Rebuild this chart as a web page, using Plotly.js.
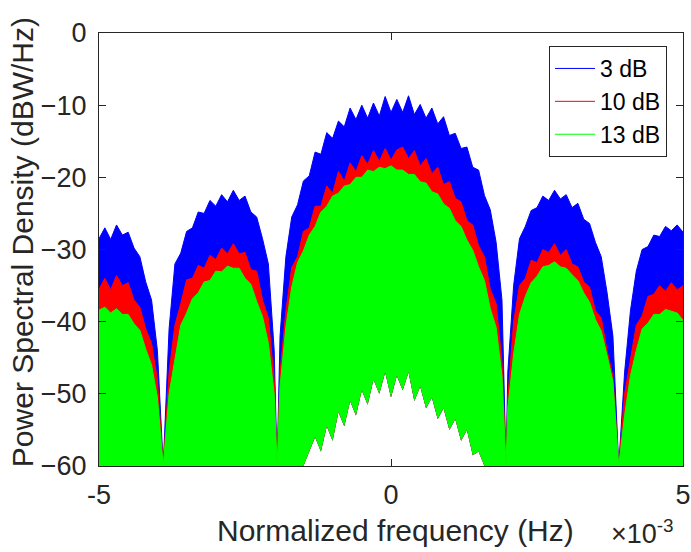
<!DOCTYPE html>
<html>
<head>
<meta charset="utf-8">
<script src="https://cdn.plot.ly/plotly-3.0.1.min.js"></script>
<style>html,body{margin:0;padding:0;background:#fff;}#chart{width:691px;height:552px;}</style>
</head>
<body>
<div id="chart"></div>
<script>
// Normalized frequency, in units of 1e-3 Hz
const freq = [-5.0,-4.9,-4.8,-4.7,-4.6,-4.5,-4.4,-4.3,-4.2,-4.1,-4.0,-3.9,-3.8,-3.7,-3.6,-3.5,-3.4,-3.3,-3.2,-3.1,-3.0,-2.9,-2.8,-2.7,-2.6,-2.5,-2.4,-2.3,-2.2,-2.1,-2.0,-1.95,-1.9,-1.8,-1.7,-1.6,-1.5,-1.4,-1.3,-1.2,-1.1,-1.0,-0.9,-0.8,-0.7,-0.6,-0.5,-0.4,-0.3,-0.2,-0.1,0.0,0.1,0.2,0.3,0.4,0.5,0.6,0.7,0.8,0.9,1.0,1.1,1.2,1.3,1.4,1.5,1.6,1.7,1.8,1.9,1.97,2.0,2.1,2.2,2.3,2.4,2.5,2.6,2.7,2.8,2.9,3.0,3.1,3.2,3.3,3.4,3.5,3.6,3.7,3.8,3.9,4.0,4.1,4.2,4.3,4.4,4.5,4.6,4.7,4.8,4.9,5.0];

// Upper (peak) envelope of each PSD, dBW/Hz
const psd3dB = [-28.5,-27.0,-28.6,-26.6,-28.0,-27.6,-29.8,-31.0,-34.5,-37.0,-44.0,-60,-41.0,-32.0,-30.5,-27.5,-27.0,-24.8,-25.0,-23.2,-24.0,-22.4,-23.4,-21.8,-23.2,-22.6,-24.8,-25.5,-28.5,-32.0,-44.0,-60,-42.0,-31.0,-25.5,-23.8,-20.5,-19.8,-16.5,-16.8,-13.8,-14.6,-12.2,-13.0,-10.4,-12.0,-10.0,-11.8,-9.7,-11.5,-8.8,-11.0,-9.2,-11.0,-8.7,-11.3,-9.9,-11.8,-10.4,-12.6,-11.6,-14.2,-13.9,-16.0,-15.8,-18.6,-19.0,-22.5,-24.5,-29.0,-37.0,-60,-47.0,-35.0,-28.5,-26.8,-24.6,-24.2,-22.6,-23.2,-21.8,-23.0,-22.4,-24.2,-23.6,-25.8,-26.4,-29.0,-31.0,-36.0,-42.0,-60,-47.0,-38.5,-33.0,-30.0,-29.6,-28.0,-28.2,-26.8,-27.4,-26.6,-27.6];

const psd10dB = [-35.5,-34.0,-35.6,-33.6,-35.0,-34.6,-37.0,-38.0,-41.0,-43.0,-48.0,-60,-47.0,-40.5,-37.5,-34.2,-34.0,-32.2,-32.6,-30.8,-31.4,-29.8,-30.6,-29.2,-30.6,-30.4,-32.8,-33.0,-37.0,-39.5,-48.0,-60,-47.0,-38.5,-32.5,-31.0,-27.5,-27.0,-24.0,-24.0,-21.2,-22.2,-19.2,-20.5,-18.0,-19.2,-17.0,-18.2,-16.3,-17.8,-16.0,-17.6,-16.2,-15.8,-17.4,-16.3,-18.4,-17.4,-19.5,-18.6,-21.0,-20.6,-22.9,-23.4,-26.0,-26.6,-29.5,-31.0,-35.5,-37.5,-45.5,-60,-50.5,-40.0,-35.0,-34.0,-31.5,-31.8,-30.0,-30.4,-29.2,-30.8,-30.0,-32.0,-32.4,-34.5,-35.2,-38.5,-39.5,-44.0,-47.5,-60,-50.0,-45.0,-40.5,-39.2,-36.5,-36.2,-35.0,-35.8,-34.6,-35.6,-35.0];

const psd13dB = [-38.4,-38.0,-38.8,-38.2,-39.0,-39.0,-40.3,-41.2,-43.8,-46.0,-50.5,-60,-50.0,-45.0,-40.5,-38.8,-36.8,-36.0,-34.5,-34.3,-33.0,-33.1,-32.3,-32.6,-32.6,-34.0,-34.8,-37.2,-39.3,-43.0,-50.0,-60,-49.0,-40.7,-35.2,-31.8,-30.2,-28.0,-26.8,-24.8,-24.0,-22.6,-22.2,-21.2,-21.0,-20.0,-20.0,-19.0,-19.2,-18.6,-18.8,-18.4,-19.0,-19.0,-19.6,-19.6,-20.6,-20.8,-22.0,-22.3,-23.7,-24.3,-26.0,-26.8,-28.7,-30.1,-32.4,-34.3,-38.2,-40.8,-47.5,-60,-52.0,-44.5,-39.0,-36.5,-34.6,-33.7,-32.4,-32.2,-31.7,-32.4,-32.6,-33.5,-34.3,-36.0,-37.3,-39.7,-41.3,-44.7,-48.3,-60,-53.0,-47.5,-44.0,-41.0,-40.2,-39.0,-39.0,-38.3,-38.6,-38.8,-39.8];

// Lower (trough) envelope shared by the three PSDs, dBW/Hz
const troughDb = [-60,-60,-60,-60,-60,-60,-60,-60,-60,-60,-60,-60,-60,-60,-60,-60,-60,-60,-60,-60,-60,-60,-60,-60,-60,-60,-60,-60,-60,-60,-60,-60,-60,-60,-60,-60,-60,-58.0,-56.0,-58.0,-54.5,-56.5,-52.5,-54.5,-51.0,-53.0,-49.5,-51.5,-48.0,-50.0,-47.0,-50.5,-47.5,-49.5,-47.0,-51.0,-49.0,-52.0,-50.5,-53.5,-52.0,-55.0,-53.5,-56.5,-55.0,-58.5,-58.0,-60,-60,-60,-60,-60,-60,-60,-60,-60,-60,-60,-60,-60,-60,-60,-60,-60,-60,-60,-60,-60,-60,-60,-60,-60,-60,-60,-60,-60,-60,-60,-60,-60,-60,-60,-60];

const seriesNames = ['3 dB', '10 dB', '13 dB'];
const seriesColors = ['#0000ff', '#ff0000', '#00ff00'];
const seriesValues = [psd3dB, psd10dB, psd13dB];

const txt = '#262626';
const traces = [];
seriesValues.forEach(function (vals, i) {
  traces.push({
    x: freq, y: troughDb, type: 'scatter', mode: 'lines',
    line: {width: 0, color: seriesColors[i]}, showlegend: false, hoverinfo: 'skip'
  });
  traces.push({
    x: freq, y: vals, type: 'scatter', mode: 'lines', fill: 'tonexty',
    fillcolor: seriesColors[i], line: {width: 1, color: seriesColors[i]},
    showlegend: false, name: seriesNames[i]
  });
});
seriesNames.forEach(function (n, i) {
  traces.push({
    x: [null], y: [null], type: 'scatter', mode: 'lines', name: n,
    line: {width: 1, color: seriesColors[i]}, showlegend: true
  });
});

const axisCommon = {
  showline: true, linecolor: txt, linewidth: 1, mirror: 'ticks',
  ticks: 'inside', ticklen: 7, tickcolor: txt, tickwidth: 1,
  showgrid: false, zeroline: false,
  tickfont: {family: 'Liberation Sans, Arial, sans-serif', size: 27, color: txt}
};

const layout = {
  width: 691, height: 552,
  margin: {l: 99, r: 8, t: 33, b: 86},
  paper_bgcolor: '#fff', plot_bgcolor: '#fff',
  font: {family: 'Liberation Sans, Arial, sans-serif', color: txt},
  xaxis: Object.assign({}, axisCommon, {
    range: [-5, 5], tickvals: [-5, 0, 5], ticktext: ['-5', '0', '5'], ticklabelstandoff: 5
  }),
  yaxis: Object.assign({}, axisCommon, {
    range: [-60, 0], tickvals: [-60, -50, -40, -30, -20, -10, 0], ticklabelstandoff: 6
  }),
  legend: {
    x: 0.9726, xanchor: 'right', y: 0.97, yanchor: 'top', traceorder: 'normal',
    bgcolor: '#fff', bordercolor: txt, borderwidth: 1,
    font: {family: 'Liberation Sans, Arial, sans-serif', size: 23, color: '#000'},
    itemwidth: 40, tracegroupgap: 0
  },
  annotations: [
    {text: 'Normalized frequency (Hz)', xref: 'paper', yref: 'paper', x: 0.5077, y: -0.150,
     xanchor: 'center', yanchor: 'middle', showarrow: false,
     font: {size: 30, color: txt}},
    {text: 'Power Spectral Density (dBW/Hz)', xref: 'paper', yref: 'paper', x: -0.1318, y: 0.517,
     xanchor: 'center', yanchor: 'middle', textangle: -90, showarrow: false,
     font: {size: 30, color: txt}},
    {text: '×10<sup>-3</sup>', xref: 'paper', yref: 'paper', x: 0.873, y: -0.152,
     xanchor: 'left', yanchor: 'middle', showarrow: false,
     font: {size: 27, color: txt}}
  ]
};

Plotly.newPlot('chart', traces, layout, {displayModeBar: false, staticPlot: true});
</script>
</body>
</html>
